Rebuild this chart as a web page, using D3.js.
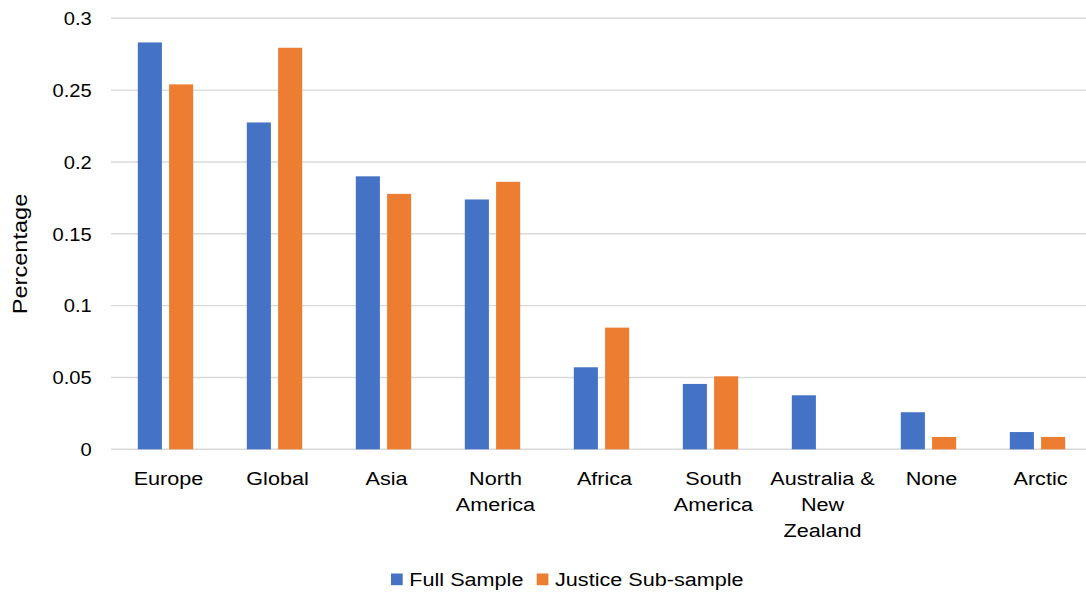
<!DOCTYPE html>
<html>
<head>
<meta charset="utf-8">
<script src="https://cdn.jsdelivr.net/npm/d3@7"></script>
<style>
  html, body { margin: 0; padding: 0; background: #fff; }
  svg { display: block; }
  text { font-family: "Liberation Sans", Arial, sans-serif; fill: #000; }
</style>
</head>
<body>
<svg id="chart" width="1086" height="592"></svg>
<script>
// Regions studied and share of papers in each sample
const categories = ["Europe", "Global", "Asia", "North America", "Africa",
                    "South America", "Australia & New Zealand", "None", "Arctic"];
const categoryLines = [["Europe"], ["Global"], ["Asia"], ["North", "America"], ["Africa"],
                       ["South", "America"], ["Australia &", "New", "Zealand"], ["None"], ["Arctic"]];
const seriesNames = ["Full Sample", "Justice Sub-sample"];
const fullSample = [0.2832, 0.2275, 0.190, 0.1739, 0.0571, 0.0455, 0.0376, 0.0258, 0.012];
const justiceSample = [0.254, 0.2795, 0.1778, 0.1862, 0.0847, 0.0508, 0, 0.0086, 0.0086];
const yTicks = [0, 0.05, 0.1, 0.15, 0.2, 0.25, 0.3];
const yTickLabels = ["0", "0.05", "0.1", "0.15", "0.2", "0.25", "0.3"];
const colors = ["#4472C4", "#ED7D31"];

const seriesValues = [fullSample, justiceSample];
const rows = categories.map((c, i) => ({
  category: c,
  lines: categoryLines[i],
  values: seriesNames.map((s, j) => ({ series: s, value: seriesValues[j][i] }))
}));

const svg = d3.select("#chart");
const plot = { left: 111, right: 1092, top: 18.3, bottom: 449.3 };
const stretch = 1.15; // glyphs are drawn a little wider than the plain face

const x0 = d3.scaleBand().domain(categories).range([plot.left, plot.right]).padding(0);
const bw = x0.bandwidth();
const x1 = d3.scaleBand().domain(seriesNames).range([0.246 * bw, 0.754 * bw]).paddingInner(0.23);
const color = d3.scaleOrdinal().domain(seriesNames).range(colors);
const y = d3.scaleLinear().domain([0, 0.3]).range([plot.bottom, plot.top]);

// horizontal gridlines, including the baseline
svg.append("g")
  .selectAll("line")
  .data(yTicks)
  .join("line")
  .attr("x1", plot.left)
  .attr("x2", 1086)
  .attr("y1", d => y(d))
  .attr("y2", d => y(d))
  .attr("stroke", "#d9d9d9")
  .attr("stroke-width", 1.4);

// y-axis tick labels through a left axis with hidden lines
const yAxis = d3.axisLeft(y).tickValues(yTicks)
  .tickFormat((d, i) => yTickLabels[i]).tickSize(0).tickPadding(0);
const yg = svg.append("g").attr("transform", "translate(91.7,0)").call(yAxis);
yg.select(".domain").remove();
yg.selectAll(".tick text")
  .attr("font-size", 17.5)
  .attr("font-family", "Liberation Sans, Arial, sans-serif")
  .attr("fill", "#000")
  .attr("x", 0)
  .attr("dy", "0.36em")
  .attr("transform", `scale(${stretch},1)`)
  .attr("text-anchor", "end");

// bars
const groups = svg.append("g")
  .selectAll("g")
  .data(rows)
  .join("g")
  .attr("transform", d => `translate(${x0(d.category)},0)`);

groups.selectAll("rect")
  .data(d => d.values)
  .join("rect")
  .attr("x", d => x1(d.series))
  .attr("width", x1.bandwidth())
  .attr("y", d => y(d.value))
  .attr("height", d => y(0) - y(d.value))
  .attr("fill", d => color(d.series));

// category labels, wrapped onto several lines
const catLabels = svg.append("g")
  .selectAll("g")
  .data(rows)
  .join("g")
  .attr("transform", d => `translate(${x0(d.category) + bw / 2 + 3},485) scale(${stretch},1)`);

catLabels.append("text")
  .attr("text-anchor", "middle")
  .attr("font-size", 18.8)
  .selectAll("tspan")
  .data(d => d.lines)
  .join("tspan")
  .attr("x", 0)
  .attr("y", (d, i) => i * 26)
  .text(d => d);

// y-axis title
svg.append("g")
  .attr("transform", "translate(27,254) rotate(-90)")
  .append("text")
  .attr("transform", `scale(${stretch},1)`)
  .attr("text-anchor", "middle")
  .attr("font-size", 20.5)
  .text("Percentage");

// legend
const legendItems = [
  { name: seriesNames[0], box: 391, text: 409.3 },
  { name: seriesNames[1], box: 536.7, text: 555 }
];
const legend = svg.append("g")
  .selectAll("g")
  .data(legendItems)
  .join("g");
legend.append("rect")
  .attr("x", d => d.box)
  .attr("y", 573.5)
  .attr("width", 11.7)
  .attr("height", 11.7)
  .attr("fill", d => color(d.name));
legend.append("g")
  .attr("transform", d => `translate(${d.text},585.5) scale(${stretch},1)`)
  .append("text")
  .attr("font-size", 18.8)
  .text(d => d.name);
</script>
</body>
</html>
